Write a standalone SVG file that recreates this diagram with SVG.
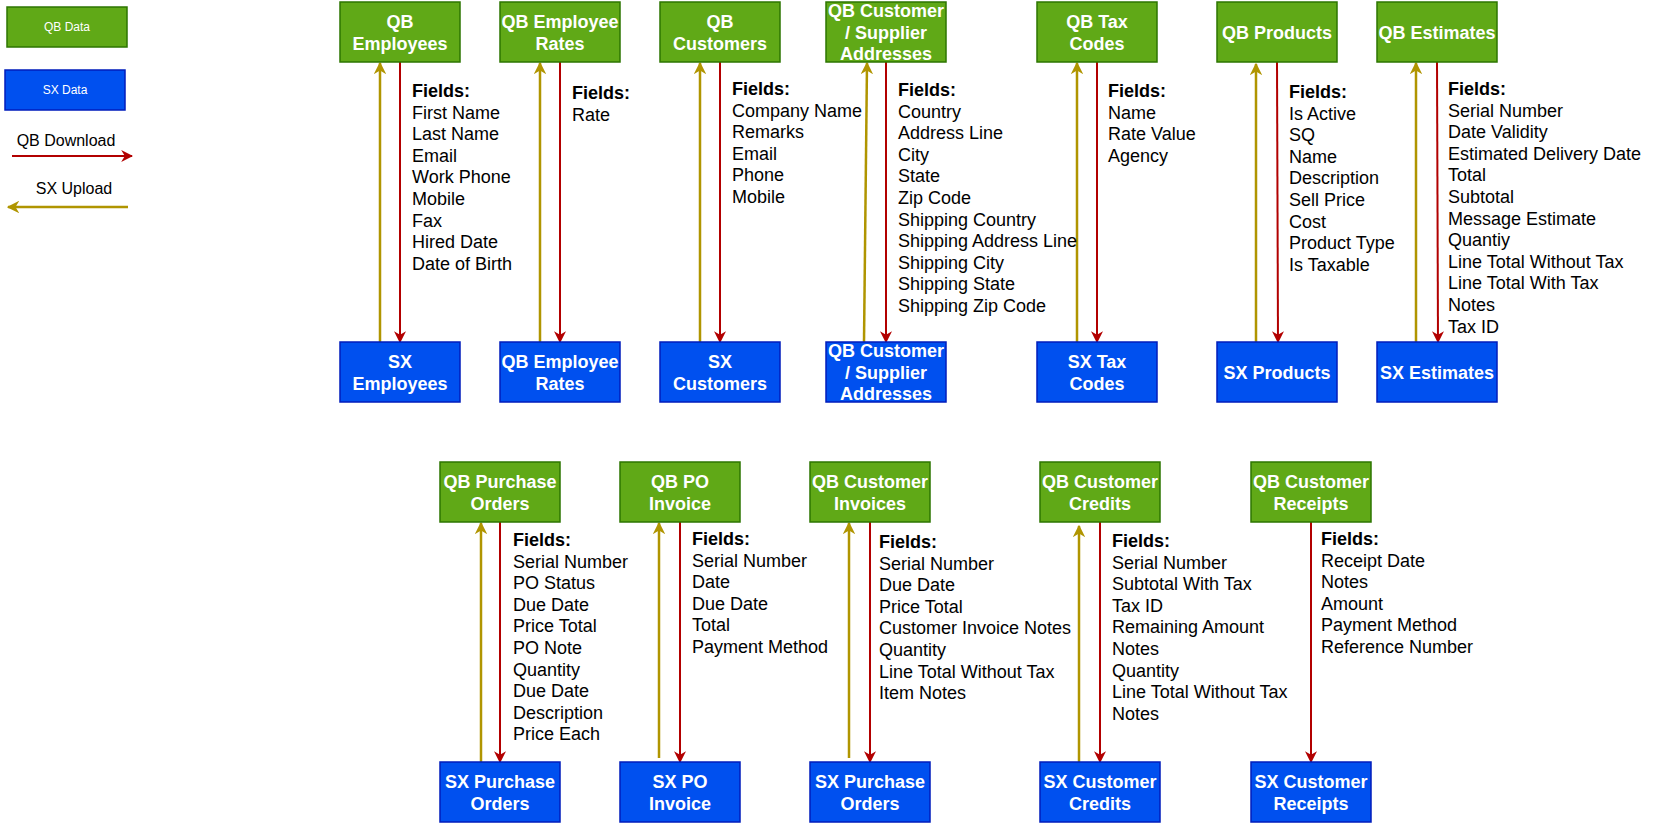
<svg xmlns="http://www.w3.org/2000/svg" width="1667" height="824" viewBox="0 0 1667 824">
<style>
text{font-family:"Liberation Sans",Arial,sans-serif}
.qb{fill:#60a917;stroke:#2d7600;stroke-width:1.5}
.sx{fill:#0050ef;stroke:#001dbc;stroke-width:1.5}
.t{fill:#fff;font-weight:bold;font-size:18px;text-anchor:middle}
.f{font-size:18px;fill:#000}
.fb{font-weight:bold}
.dn{stroke:#b20000;stroke-width:2;fill:none;marker-end:url(#mr)}
.up{stroke:#b09500;stroke-width:2.5;fill:none;marker-end:url(#mg)}
</style>
<defs>
<marker id="mr" viewBox="0 0 10 10" refX="9" refY="5" markerWidth="6" markerHeight="6" orient="auto" markerUnits="strokeWidth"><path d="M0,0 L10,5 L0,10 L3,5 Z" fill="#b20000"/></marker>
<marker id="mg" viewBox="0 0 10 10" refX="9" refY="5" markerWidth="5" markerHeight="5" orient="auto" markerUnits="strokeWidth"><path d="M0,0 L10,5 L0,10 L3,5 Z" fill="#b09500"/></marker>
</defs>
<rect width="1667" height="824" fill="#fff"/>
<g id="legend">
<rect class="qb" x="7" y="7" width="120" height="40"/>
<text x="67" y="31" fill="#fff" font-size="12" text-anchor="middle">QB Data</text>
<rect class="sx" x="5" y="70" width="120" height="40"/>
<text x="65" y="94" fill="#fff" font-size="12" text-anchor="middle">SX Data</text>
<text x="66" y="146" font-size="16" text-anchor="middle">QB Download</text>
<line class="dn" x1="12" y1="156" x2="132" y2="156"/>
<text x="74" y="194" font-size="16" text-anchor="middle">SX Upload</text>
<line class="up" x1="128" y1="207" x2="8" y2="207"/>
</g>
<g id="connectors">
<line class="up" x1="380" y1="342" x2="380" y2="63"/><line class="dn" x1="400" y1="62" x2="400" y2="342"/>
<line class="up" x1="540" y1="342" x2="540" y2="63"/><line class="dn" x1="560" y1="62" x2="560" y2="342"/>
<line class="up" x1="700" y1="342" x2="700" y2="63"/><line class="dn" x1="720" y1="62" x2="720" y2="342"/>
<line class="up" x1="864" y1="342" x2="867" y2="63"/><line class="dn" x1="886" y1="62" x2="886" y2="342"/>
<line class="up" x1="1077" y1="342" x2="1077" y2="63"/><line class="dn" x1="1097" y1="62" x2="1097" y2="342"/>
<line class="up" x1="1256" y1="345" x2="1256" y2="64"/><line class="dn" x1="1277" y1="62" x2="1278" y2="342"/>
<line class="up" x1="1416" y1="342" x2="1416" y2="63"/><line class="dn" x1="1437" y1="62" x2="1438" y2="342"/>
<line class="up" x1="481" y1="765" x2="481" y2="523"/><line class="dn" x1="500" y1="522" x2="500" y2="762"/>
<line class="up" x1="659" y1="758" x2="659" y2="523"/><line class="dn" x1="680" y1="522" x2="680" y2="762"/>
<line class="up" x1="849" y1="758" x2="849" y2="523"/><line class="dn" x1="870" y1="522" x2="870" y2="762"/>
<line class="up" x1="1079" y1="762" x2="1079" y2="526"/><line class="dn" x1="1100" y1="522" x2="1100" y2="762"/>
<line class="dn" x1="1311" y1="522" x2="1311" y2="762"/>
</g>
<g id="qb-employees"><rect class="qb" x="340" y="2" width="120" height="60"/><text class="t" x="400" y="28">QB</text><text class="t" x="400" y="50">Employees</text></g>
<g id="sx-employees"><rect class="sx" x="340" y="342" width="120" height="60"/><text class="t" x="400" y="368">SX</text><text class="t" x="400" y="390">Employees</text></g>
<g id="qb-rates"><rect class="qb" x="500" y="2" width="120" height="60"/><text class="t" x="560" y="28">QB Employee</text><text class="t" x="560" y="50">Rates</text></g>
<g id="sx-rates"><rect class="sx" x="500" y="342" width="120" height="60"/><text class="t" x="560" y="368">QB Employee</text><text class="t" x="560" y="390">Rates</text></g>
<g id="qb-customers"><rect class="qb" x="660" y="2" width="120" height="60"/><text class="t" x="720" y="28">QB</text><text class="t" x="720" y="50">Customers</text></g>
<g id="sx-customers"><rect class="sx" x="660" y="342" width="120" height="60"/><text class="t" x="720" y="368">SX</text><text class="t" x="720" y="390">Customers</text></g>
<g id="qb-addresses"><rect class="qb" x="826" y="2" width="120" height="60"/><text class="t" x="886" y="17">QB Customer</text><text class="t" x="886" y="39">/ Supplier</text><text class="t" x="886" y="60">Addresses</text></g>
<g id="sx-addresses"><rect class="sx" x="826" y="342" width="120" height="60"/><text class="t" x="886" y="357">QB Customer</text><text class="t" x="886" y="379">/ Supplier</text><text class="t" x="886" y="400">Addresses</text></g>
<g id="qb-tax"><rect class="qb" x="1037" y="2" width="120" height="60"/><text class="t" x="1097" y="28">QB Tax</text><text class="t" x="1097" y="50">Codes</text></g>
<g id="sx-tax"><rect class="sx" x="1037" y="342" width="120" height="60"/><text class="t" x="1097" y="368">SX Tax</text><text class="t" x="1097" y="390">Codes</text></g>
<g id="qb-products"><rect class="qb" x="1217" y="2" width="120" height="60"/><text class="t" x="1277" y="39">QB Products</text></g>
<g id="sx-products"><rect class="sx" x="1217" y="342" width="120" height="60"/><text class="t" x="1277" y="379">SX Products</text></g>
<g id="qb-estimates"><rect class="qb" x="1377" y="2" width="120" height="60"/><text class="t" x="1437" y="39">QB Estimates</text></g>
<g id="sx-estimates"><rect class="sx" x="1377" y="342" width="120" height="60"/><text class="t" x="1437" y="379">SX Estimates</text></g>
<g id="qb-po"><rect class="qb" x="440" y="462" width="120" height="60"/><text class="t" x="500" y="488">QB Purchase</text><text class="t" x="500" y="510">Orders</text></g>
<g id="sx-po"><rect class="sx" x="440" y="762" width="120" height="60"/><text class="t" x="500" y="788">SX Purchase</text><text class="t" x="500" y="810">Orders</text></g>
<g id="qb-poinv"><rect class="qb" x="620" y="462" width="120" height="60"/><text class="t" x="680" y="488">QB PO</text><text class="t" x="680" y="510">Invoice</text></g>
<g id="sx-poinv"><rect class="sx" x="620" y="762" width="120" height="60"/><text class="t" x="680" y="788">SX PO</text><text class="t" x="680" y="810">Invoice</text></g>
<g id="qb-invoices"><rect class="qb" x="810" y="462" width="120" height="60"/><text class="t" x="870" y="488">QB Customer</text><text class="t" x="870" y="510">Invoices</text></g>
<g id="sx-invoices"><rect class="sx" x="810" y="762" width="120" height="60"/><text class="t" x="870" y="788">SX Purchase</text><text class="t" x="870" y="810">Orders</text></g>
<g id="qb-credits"><rect class="qb" x="1040" y="462" width="120" height="60"/><text class="t" x="1100" y="488">QB Customer</text><text class="t" x="1100" y="510">Credits</text></g>
<g id="sx-credits"><rect class="sx" x="1040" y="762" width="120" height="60"/><text class="t" x="1100" y="788">SX Customer</text><text class="t" x="1100" y="810">Credits</text></g>
<g id="qb-receipts"><rect class="qb" x="1251" y="462" width="120" height="60"/><text class="t" x="1311" y="488">QB Customer</text><text class="t" x="1311" y="510">Receipts</text></g>
<g id="sx-receipts"><rect class="sx" x="1251" y="762" width="120" height="60"/><text class="t" x="1311" y="788">SX Customer</text><text class="t" x="1311" y="810">Receipts</text></g>
<g id="fields">
<text class="f" x="412" y="97"><tspan class="fb">Fields:</tspan><tspan x="412" dy="21.6">First Name</tspan><tspan x="412" dy="21.6">Last Name</tspan><tspan x="412" dy="21.6">Email</tspan><tspan x="412" dy="21.6">Work Phone</tspan><tspan x="412" dy="21.6">Mobile</tspan><tspan x="412" dy="21.6">Fax</tspan><tspan x="412" dy="21.6">Hired Date</tspan><tspan x="412" dy="21.6">Date of Birth</tspan></text>
<text class="f" x="572" y="99"><tspan class="fb">Fields:</tspan><tspan x="572" dy="21.6">Rate</tspan></text>
<text class="f" x="732" y="95"><tspan class="fb">Fields:</tspan><tspan x="732" dy="21.6">Company Name</tspan><tspan x="732" dy="21.6">Remarks</tspan><tspan x="732" dy="21.6">Email</tspan><tspan x="732" dy="21.6">Phone</tspan><tspan x="732" dy="21.6">Mobile</tspan></text>
<text class="f" x="898" y="96"><tspan class="fb">Fields:</tspan><tspan x="898" dy="21.6">Country</tspan><tspan x="898" dy="21.6">Address Line</tspan><tspan x="898" dy="21.6">City</tspan><tspan x="898" dy="21.6">State</tspan><tspan x="898" dy="21.6">Zip Code</tspan><tspan x="898" dy="21.6">Shipping Country</tspan><tspan x="898" dy="21.6">Shipping Address Line</tspan><tspan x="898" dy="21.6">Shipping City</tspan><tspan x="898" dy="21.6">Shipping State</tspan><tspan x="898" dy="21.6">Shipping Zip Code</tspan></text>
<text class="f" x="1108" y="97"><tspan class="fb">Fields:</tspan><tspan x="1108" dy="21.6">Name</tspan><tspan x="1108" dy="21.6">Rate Value</tspan><tspan x="1108" dy="21.6">Agency</tspan></text>
<text class="f" x="1289" y="98"><tspan class="fb">Fields:</tspan><tspan x="1289" dy="21.6">Is Active</tspan><tspan x="1289" dy="21.6">SQ</tspan><tspan x="1289" dy="21.6">Name</tspan><tspan x="1289" dy="21.6">Description</tspan><tspan x="1289" dy="21.6">Sell Price</tspan><tspan x="1289" dy="21.6">Cost</tspan><tspan x="1289" dy="21.6">Product Type</tspan><tspan x="1289" dy="21.6">Is Taxable</tspan></text>
<text class="f" x="1448" y="95"><tspan class="fb">Fields:</tspan><tspan x="1448" dy="21.6">Serial Number</tspan><tspan x="1448" dy="21.6">Date Validity</tspan><tspan x="1448" dy="21.6">Estimated Delivery Date</tspan><tspan x="1448" dy="21.6">Total</tspan><tspan x="1448" dy="21.6">Subtotal</tspan><tspan x="1448" dy="21.6">Message Estimate</tspan><tspan x="1448" dy="21.6">Quantiy</tspan><tspan x="1448" dy="21.6">Line Total Without Tax</tspan><tspan x="1448" dy="21.6">Line Total With Tax</tspan><tspan x="1448" dy="21.6">Notes</tspan><tspan x="1448" dy="21.6">Tax ID</tspan></text>
<text class="f" x="513" y="546"><tspan class="fb">Fields:</tspan><tspan x="513" dy="21.6">Serial Number</tspan><tspan x="513" dy="21.6">PO Status</tspan><tspan x="513" dy="21.6">Due Date</tspan><tspan x="513" dy="21.6">Price Total</tspan><tspan x="513" dy="21.6">PO Note</tspan><tspan x="513" dy="21.6">Quantity</tspan><tspan x="513" dy="21.6">Due Date</tspan><tspan x="513" dy="21.6">Description</tspan><tspan x="513" dy="21.6">Price Each</tspan></text>
<text class="f" x="692" y="545"><tspan class="fb">Fields:</tspan><tspan x="692" dy="21.6">Serial Number</tspan><tspan x="692" dy="21.6">Date</tspan><tspan x="692" dy="21.6">Due Date</tspan><tspan x="692" dy="21.6">Total</tspan><tspan x="692" dy="21.6">Payment Method</tspan></text>
<text class="f" x="879" y="548"><tspan class="fb">Fields:</tspan><tspan x="879" dy="21.6">Serial Number</tspan><tspan x="879" dy="21.6">Due Date</tspan><tspan x="879" dy="21.6">Price Total</tspan><tspan x="879" dy="21.6">Customer Invoice Notes</tspan><tspan x="879" dy="21.6">Quantity</tspan><tspan x="879" dy="21.6">Line Total Without Tax</tspan><tspan x="879" dy="21.6">Item Notes</tspan></text>
<text class="f" x="1112" y="547"><tspan class="fb">Fields:</tspan><tspan x="1112" dy="21.6">Serial Number</tspan><tspan x="1112" dy="21.6">Subtotal With Tax</tspan><tspan x="1112" dy="21.6">Tax ID</tspan><tspan x="1112" dy="21.6">Remaining Amount</tspan><tspan x="1112" dy="21.6">Notes</tspan><tspan x="1112" dy="21.6">Quantity</tspan><tspan x="1112" dy="21.6">Line Total Without Tax</tspan><tspan x="1112" dy="21.6">Notes</tspan></text>
<text class="f" x="1321" y="545"><tspan class="fb">Fields:</tspan><tspan x="1321" dy="21.6">Receipt Date</tspan><tspan x="1321" dy="21.6">Notes</tspan><tspan x="1321" dy="21.6">Amount</tspan><tspan x="1321" dy="21.6">Payment Method</tspan><tspan x="1321" dy="21.6">Reference Number</tspan></text>
</g>
</svg>
